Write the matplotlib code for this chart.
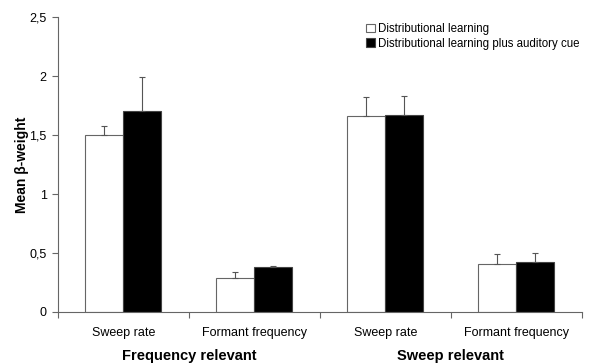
import numpy as np
import matplotlib
matplotlib.use("Agg")
import matplotlib.pyplot as plt

plt.rcParams['font.family'] = ['Liberation Sans', 'DejaVu Sans']

# Data
categories = ["Sweep rate", "Formant frequency", "Sweep rate", "Formant frequency"]
groups = ["Frequency relevant", "Sweep relevant"]
series_names = ["Distributional learning", "Distributional learning plus auditory cue"]
dist_mean = [1.50, 0.29, 1.66, 0.41]
dist_err = [0.08, 0.05, 0.16, 0.08]
cue_mean = [1.70, 0.38, 1.67, 0.42]
cue_err = [0.29, 0.01, 0.16, 0.08]
yticks = [0, 0.5, 1, 1.5, 2, 2.5]
ytick_labels = ["0", "0,5", "1", "1,5", "2", "2,5"]

fig = plt.figure(figsize=(5.9, 3.64), dpi=100)
ax = fig.add_axes([0.098, 0.143, 0.888, 0.81])

x = np.arange(len(categories))
w = 0.29
ecol = "#555555"
ax.bar(x - w/2, dist_mean, w, color="white", edgecolor="#666666", linewidth=0.8,
       yerr=[np.zeros(4), dist_err], error_kw=dict(ecolor=ecol, elinewidth=0.8, capsize=2.5, capthick=0.8),
       label=series_names[0], zorder=2)
ax.bar(x + w/2, cue_mean, w, color="black", edgecolor="#444444", linewidth=0.8,
       yerr=[np.zeros(4), cue_err], error_kw=dict(ecolor=ecol, elinewidth=0.8, capsize=2.5, capthick=0.8),
       label=series_names[1], zorder=2)

ax.set_xlim(-0.5, 3.5)
ax.set_ylim(0, 2.5)
ax.set_yticks(yticks)
ax.set_yticklabels(ytick_labels, fontsize=9)
ax.set_xticks(np.arange(-0.5, 4.0, 1.0))
ax.set_xticklabels([])
ax.set_xticks(x, minor=True)
ax.set_xticklabels(categories, minor=True, fontsize=9)
ax.tick_params(axis='x', which='minor', length=0, pad=11)
ax.tick_params(axis='x', which='major', length=4, direction='out', color="#666666")
ax.tick_params(axis='y', length=4, direction='out', color="#666666", pad=4)

for s in ["top", "right"]:
    ax.spines[s].set_visible(False)
for s in ["left", "bottom"]:
    ax.spines[s].set_color("#666666")
    ax.spines[s].set_linewidth(0.8)

ax.set_ylabel("Mean β-weight", fontsize=10, fontweight="bold", labelpad=0)

for i, g in enumerate(groups):
    ax.text(0.5 + 2*i, -0.37, g, ha="center", va="center", fontsize=10.5, fontweight="bold")

leg = ax.legend(loc="upper left", bbox_to_anchor=(0.58, 0.995), frameon=False, fontsize=8.3,
                handlelength=0.75, handleheight=0.75, handletextpad=0.25, labelspacing=0.22,
                borderaxespad=0)

fig.savefig("out.png", dpi=100)
